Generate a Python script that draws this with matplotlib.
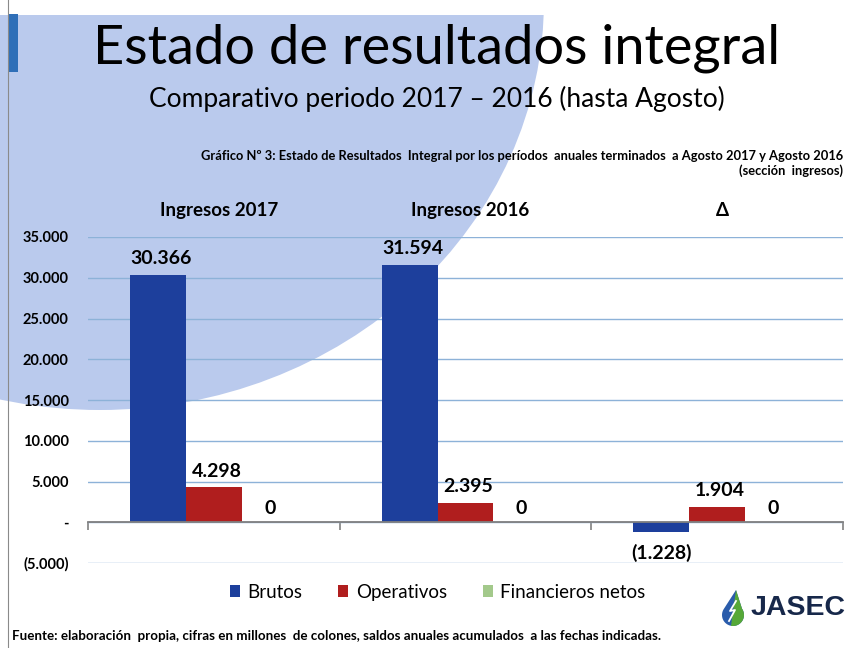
import numpy as np
import matplotlib.pyplot as plt
from matplotlib.patches import Ellipse, Rectangle, Polygon
from matplotlib.transforms import blended_transform_factory

plt.rcParams['font.family'] = ['Lato', 'DejaVu Sans']

# data (millones de colones)
categorias = ['Ingresos 2017', 'Ingresos 2016', '\u0394']
series = ['Brutos', 'Operativos', 'Financieros netos']
brutos = [30366, 31594, -1228]
operativos = [4298, 2395, 1904]
financieros = [0, 0, 0]
colores = ['#1d3f9c', '#b01e1e', '#a3c98b']

def fmt(v):
    if v == 0:
        return '-'
    s = '{:,.0f}'.format(abs(v)).replace(',', '.')
    return '(' + s + ')' if v < 0 else s

def fmt_label(v):
    if v == 0:
        return '0'
    return fmt(v)

fig = plt.figure(figsize=(8.53, 6.48), dpi=100)

# background drawing in pixel coordinates
bg = fig.add_axes([0, 0, 1, 1], zorder=0)
bg.set_xlim(0, 853)
bg.set_ylim(648, 0)
bg.axis('off')
bg.add_patch(Ellipse((100, 0), 888, 820, color='#bacaed', lw=0))
bg.add_patch(Rectangle((0, 0), 853, 15, color='white', lw=0))
bg.add_patch(Rectangle((8, 14), 10, 58, color='#2f6fb8', lw=0))
bg.plot([8, 8], [0, 648], color='#8a8a8a', lw=0.8)

# logo
ang = np.linspace(np.radians(-35), np.radians(215), 40)
cx, cy, r = 733, 615, 11
arc = np.column_stack([cx + r * np.cos(ang), cy + r * np.sin(ang)])
gota = np.vstack([[cx + 3, 590], arc[::-1]])
bg.add_patch(Polygon(gota, closed=True, color='#2a5cab', lw=0))
media = np.vstack([[cx + 3, 590], [cx + r * np.cos(np.radians(-35)), cy + r * np.sin(np.radians(-35))],
                   arc[:20], [cx - 2, cy + r]])
bg.add_patch(Polygon(media, closed=True, color='#56a838', lw=0))
bg.plot([cx + 3, cx - 3, cx + 2, cx - 4], [601, 611, 610, 621], color='white', lw=1.3)
bg.text(751, 608, 'JASEC', fontsize=20.5, fontweight='bold', color='#17284a',
        family='Liberation Sans', va='center', ha='left')

# titles
fig.text(0.512, 0.925, 'Estado de resultados integral', fontsize=39, ha='center', va='center')
fig.text(0.512, 0.847, 'Comparativo periodo 2017 \u2013 2016 (hasta Agosto)', fontsize=19,
         ha='center', va='center')
fig.text(0.988, 0.760, 'Gr\u00e1fico N\u00ba 3: Estado de Resultados  Integral por los per\u00edodos  anuales terminados  '
         'a Agosto 2017 y Agosto 2016', fontsize=9.3, fontweight='bold', ha='right', va='center')
fig.text(0.988, 0.736, '(secci\u00f3n  ingresos)', fontsize=9.3, fontweight='bold', ha='right', va='center')
fig.text(0.014, 0.018, 'Fuente: elaboraci\u00f3n  propia, cifras en millones  de colones, saldos anuales acumulados  '
         'a las fechas indicadas.', fontsize=9.6, fontweight='bold', ha='left', va='center')

# chart
ax = fig.add_axes([88 / 853, 1 - 563 / 648, 755 / 853, 326 / 648], zorder=1)
ax.set_facecolor('none')
x = np.arange(len(categorias))
w = 0.222
valores = [brutos, operativos, financieros]
barras = []
for i, (nombre, vals, c) in enumerate(zip(series, valores, colores)):
    b = ax.bar(x + (i - 1) * w, vals, w, color=c, label=nombre, zorder=3)
    barras.append(b)
    for xi, v in zip(x, vals):
        if v > 0:
            ax.text(xi + (i - 1) * w + 0.012, v + 900, fmt_label(v), ha='center', va='bottom',
                    fontsize=14, fontweight='bold')
        elif v < 0:
            ax.text(xi + (i - 1) * w, v - 1400, fmt_label(v), ha='center', va='top',
                    fontsize=14, fontweight='bold')
        else:
            ax.text(xi + (i - 1) * w, 600, '0', ha='center', va='bottom',
                    fontsize=14, fontweight='bold')

ax.set_xlim(-0.5, 2.5)
ax.set_ylim(-5000, 35000)
ax.set_yticks(np.arange(-5000, 35001, 5000))
ax.set_yticklabels([fmt(v) for v in np.arange(-5000, 35001, 5000)], fontsize=10.5, fontweight='bold')
ax.yaxis.grid(True, color='#8db2d8', lw=1.0)
ax.set_axisbelow(True)
ax.tick_params(axis='y', length=0, pad=14)
for s in ['top', 'right', 'left']:
    ax.spines[s].set_visible(False)
ax.spines['bottom'].set_position(('data', 0))
ax.spines['bottom'].set_color('#808080')
ax.spines['bottom'].set_linewidth(1.3)
ax.spines['bottom'].set_zorder(4)
ax.set_xticks([-0.5, 0.5, 1.5, 2.5])
ax.tick_params(axis='x', length=6, color='#808080', width=1.2, labelbottom=False)

tr = blended_transform_factory(ax.transData, ax.transAxes)
for xi, cat in zip(x, categorias):
    ax.text(xi + 0.02, 1.08, cat, transform=tr, ha='center', va='center', fontsize=13.5,
            fontweight='bold')

fig.legend(handles=barras, labels=series, loc='center', bbox_to_anchor=(0.513, 0.086), ncol=3,
           frameon=False, fontsize=13.5, handlelength=0.55, handleheight=0.55, handletextpad=0.4,
           columnspacing=1.9)

fig.savefig('out.png', dpi=100, facecolor='white')
